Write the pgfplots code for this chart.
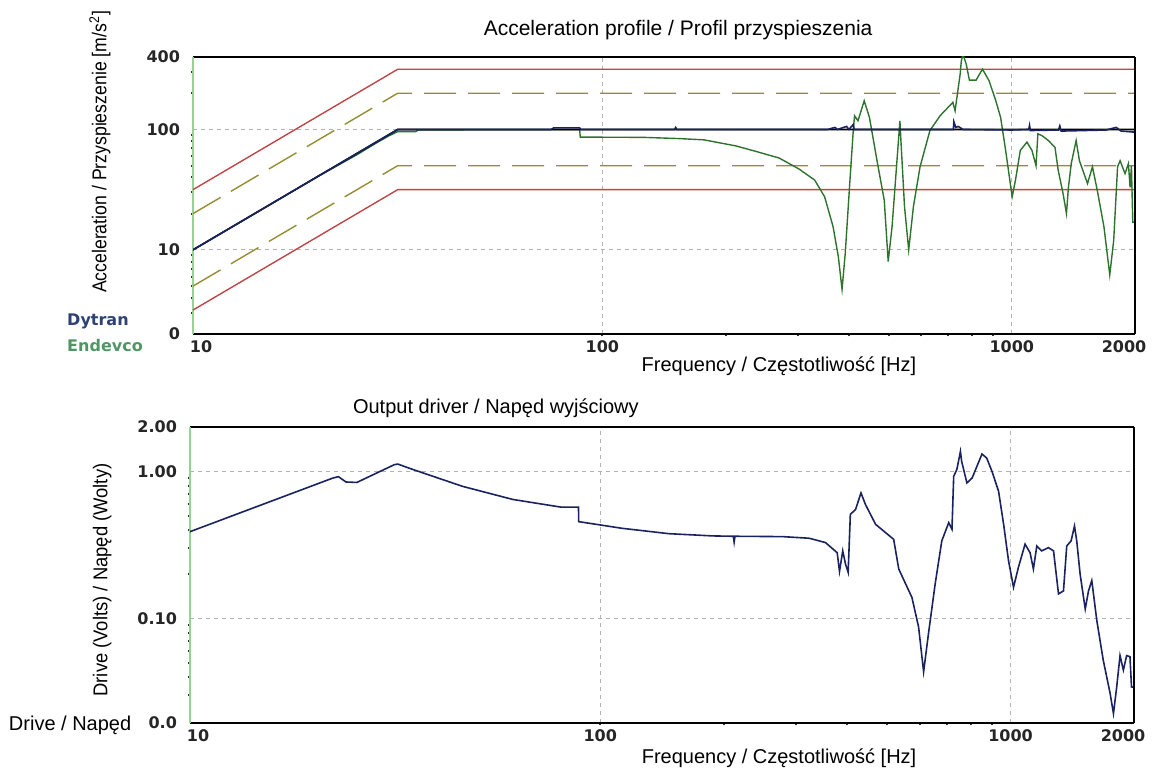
\documentclass[border=0pt]{standalone}
\usepackage{fontspec}
\setmainfont{Liberation Sans}
\newfontfamily\tickfont{DejaVu Sans}
\usepackage{graphicx}
\usepackage{pgfplots}
\pgfplotsset{compat=1.18}

\definecolor{limred}{RGB}{190,70,70}
\definecolor{abortol}{RGB}{150,140,50}
\definecolor{endev}{RGB}{45,115,45}
\definecolor{dytr}{RGB}{25,35,95}
\definecolor{leftax}{RGB}{150,210,150}
\definecolor{dytrtxt}{RGB}{45,65,115}
\definecolor{endtxt}{RGB}{80,150,100}

\newcommand{\tickfnt}{\tickfont\bfseries\fontsize{8}{9}\selectfont}

\begin{document}
\begin{tikzpicture}
\path[use as bounding box] (0,0) rectangle (576pt,-387pt);

% ---------------- acceleration profile ----------------
\begin{axis}[
  scale only axis, xmode=log, ymode=log,
  at={(96.5pt,-28.5pt)}, anchor=north west,
  width=471pt, height=138.5pt,
  xmin=10, xmax=2000,
  xtick={100,1000}, xticklabels={100,1000},
  extra x ticks={10,2000},
  extra x tick labels={\hspace*{8pt}10,2000\hspace*{11pt}},
  extra x tick style={grid=none},
  ymin=2, ymax=400,
  ytick={10,100}, yticklabels={10,100},
  extra y ticks={2,400}, extra y tick labels={0,400},
  extra y tick style={grid=none},
  minor ytick={3,4,5,6,7,8,9,20,30,40,50,60,70,80,90,200,300},
  ticklabel style={font=\tickfnt, text=black!85},
  yticklabel shift=3pt,
  tick align=outside,
  major tick length=0pt, minor tick length=1.2pt,
  ytick pos=left, xtick pos=bottom,
  minor tick style={black!80, line width=1pt},
  grid=major,
  grid style={gray!60, dash pattern=on 2pt off 2pt, line width=0.4pt},
  separate axis lines,
  x axis line style={black, line width=1pt},
  y axis line style={leftax, line width=0.6pt},
  clip mode=individual,
]
% abort limits
\addplot[limred, line width=0.7pt] coordinates {(10,31.62)(31.62,316.2)(2000,316.2)};
\addplot[limred, line width=0.7pt] coordinates {(10,3.162)(31.62,31.62)(2000,31.62)};
% alarm limits
\addplot[abortol, line width=0.7pt, dash pattern=on 16pt off 6pt] coordinates {(10,20)(31.62,200)(2000,200)};
\addplot[abortol, line width=0.7pt, dash pattern=on 16pt off 6pt] coordinates {(10,5)(31.62,50)(2000,50)};

% Endevco
\addplot[endev, line width=0.7pt] coordinates {
(10,10)(15,22.5)(20,40)(25,61)(28,77)(30,88)(31.6,96)(35,96)(35.5,99)(50,99.5)
(88,99.5)(88.3,86.4)(126,86)(154,84)(177,82)(212,73)(240,65)(256,61)(270,58)
(302,47)(330,38)(349,27.6)(366,15.6)(377,8.8)(385,4.7)(392,9.4)(402,35.8)
(410,98)(413,130)(421,118)(436,173)(449,126)(470,52)(488,25.9)(499,8.0)
(510,15.6)(525,59)(533,118)(536,81)(547,22.8)(560,10)(575,22.8)(597,49)
(631,98)(668,130)(718,168)(727,143)(748,288)(753,372)(760,420)(774,349)
(788,257)(818,257)(848,317)(880,254)(914,173)(939,126)(966,67)(1002,27.6)
(1021,38)(1049,67)(1089,78.6)(1120,67)(1146,50)(1158,92)(1184,89)(1228,81)
(1275,71)(1298,46)(1335,29)(1360,20)(1375,33)(1397,52)(1436,81)(1463,55)
(1531,35.5)(1574,49)(1618,31)(1679,15.6)(1735,6.2)(1774,12)(1813,49)
(1839,55)(1891,43)(1927,52)(1945,33)(1960,50)(1975,17)(2000,17)
};
% reference profile
\addplot[black, line width=0.8pt] coordinates {(10,10)(31.62,100)(2000,100)};
% Dytran
\addplot[dytr, line width=0.8pt] coordinates {
(10,10)(31.62,100)(75,100)(76,103)(88,103)(88.5,100)(150,100)(151,104)(152,100)
(355,100)(370,104)(375,100)(395,106)(400,100)(410,110)(412,100)(720,100)
(722,116)(730,104)(740,106)(760,100)(1000,99)(1100,100)(1105,108)(1110,98)
(1300,99)(1310,107)(1320,97)(1500,98)(1700,99)(1800,104)(1850,97)(2000,95)
};

\draw[black, line width=1pt] (rel axis cs:1,0) -- (rel axis cs:1,1);

\node[font=\fontsize{10.5}{12}\selectfont] at (axis description cs:0.515,1.0975)
  {Acceleration profile / Profil przyspieszenia};
\node[font=\fontsize{10}{12}\selectfont] at (axis description cs:0.622,-0.1155)
  {Frequency / Częstotliwość [Hz]};
\node[rotate=90, font=\fontsize{10}{12}\selectfont] at (axis description cs:-0.0987,0.657)
  {\scalebox{0.884}[1]{Acceleration / Przyspieszenie [m/s\textsuperscript{2}]}};
\node[anchor=west, font=\tickfnt, text=dytrtxt] at (axis description cs:-0.141,0.044) {Dytran};
\node[anchor=west, font=\tickfnt, text=endtxt] at (axis description cs:-0.141,-0.043) {Endevco};
\end{axis}

% ---------------- output driver ----------------
\begin{axis}[
  scale only axis, xmode=log, ymode=log,
  at={(95pt,-213.5pt)}, anchor=north west,
  width=472pt, height=148pt,
  xmin=10, xmax=2000,
  xtick={100,1000}, xticklabels={100,1000},
  extra x ticks={10,2000},
  extra x tick labels={\hspace*{8pt}10,2000\hspace*{11pt}},
  extra x tick style={grid=none},
  ymin=0.0195, ymax=2,
  ytick={0.1,1}, yticklabels={0.10,1.00},
  extra y ticks={0.0195,2}, extra y tick labels={0.0,2.00},
  extra y tick style={grid=none},
  minor ytick={0.03,0.04,0.05,0.06,0.07,0.08,0.09,0.2,0.3,0.4,0.5,0.6,0.7,0.8,0.9},
  ticklabel style={font=\tickfnt, text=black!85},
  yticklabel shift=3pt,
  tick align=outside,
  major tick length=0pt, minor tick length=1.2pt,
  ytick pos=left, xtick pos=bottom,
  minor tick style={black!80, line width=1pt},
  grid=major,
  grid style={gray!60, dash pattern=on 2pt off 2pt, line width=0.4pt},
  separate axis lines,
  x axis line style={black, line width=1pt},
  y axis line style={leftax, line width=0.6pt},
  clip mode=individual,
]
\addplot[dytr, line width=0.8pt] coordinates {
(10,0.389)(22.3,0.90)(23,0.92)(24,0.846)(25.5,0.84)(31.5,1.11)(32.1,1.12)
(34.9,1.03)(46.2,0.79)(61.2,0.644)(80.2,0.571)(88.5,0.571)(88.6,0.455)
(100,0.432)(113,0.41)(147,0.377)(188,0.364)(211,0.362)(212,0.33)(213,0.362)
(278,0.36)(323,0.351)(354,0.328)(378,0.28)(383,0.209)(390,0.288)(396,0.235)
(402,0.206)(407,0.51)(419,0.55)(432,0.713)(443,0.595)(469,0.436)(519,0.345)
(534,0.217)(575,0.139)(597,0.0874)(614,0.0435)(631,0.079)(655,0.171)
(680,0.337)(707,0.448)(720,0.404)(727,0.925)(740,1.03)(755,1.365)(760,1.17)
(783,0.834)(806,0.90)(852,1.31)(875,1.23)(901,1.0)(935,0.733)(962,0.436)
(989,0.246)(1017,0.163)(1045,0.222)(1085,0.32)(1116,0.28)(1137,0.217)
(1159,0.311)(1191,0.288)(1237,0.303)(1273,0.288)(1309,0.147)(1346,0.154)
(1371,0.311)(1405,0.337)(1432,0.425)(1450,0.337)(1478,0.20)(1521,0.116)
(1549,0.154)(1578,0.181)(1623,0.097)(1683,0.052)(1749,0.031)(1782,0.0226)
(1815,0.0343)(1849,0.056)(1884,0.0446)(1919,0.056)(1955,0.055)(1972,0.0343)
(2000,0.034)
};

\draw[black, line width=1pt] (rel axis cs:1,0) -- (rel axis cs:1,1);

\node[font=\fontsize{10}{12}\selectfont] at (axis description cs:0.324,1.064)
  {Output driver / Napęd wyjściowy};
\node[font=\fontsize{10}{12}\selectfont] at (axis description cs:0.624,-0.118)
  {Frequency / Częstotliwość [Hz]};
\node[rotate=90, font=\fontsize{10}{12}\selectfont] at (axis description cs:-0.093,0.483)
  {\scalebox{0.92}[1]{Drive (Volts) / Napęd (Wolty)}};
\node[font=\fontsize{10}{12}\selectfont] at (axis description cs:-0.127,-0.007)
  {Drive / Napęd};
\end{axis}
\end{tikzpicture}
\end{document}
